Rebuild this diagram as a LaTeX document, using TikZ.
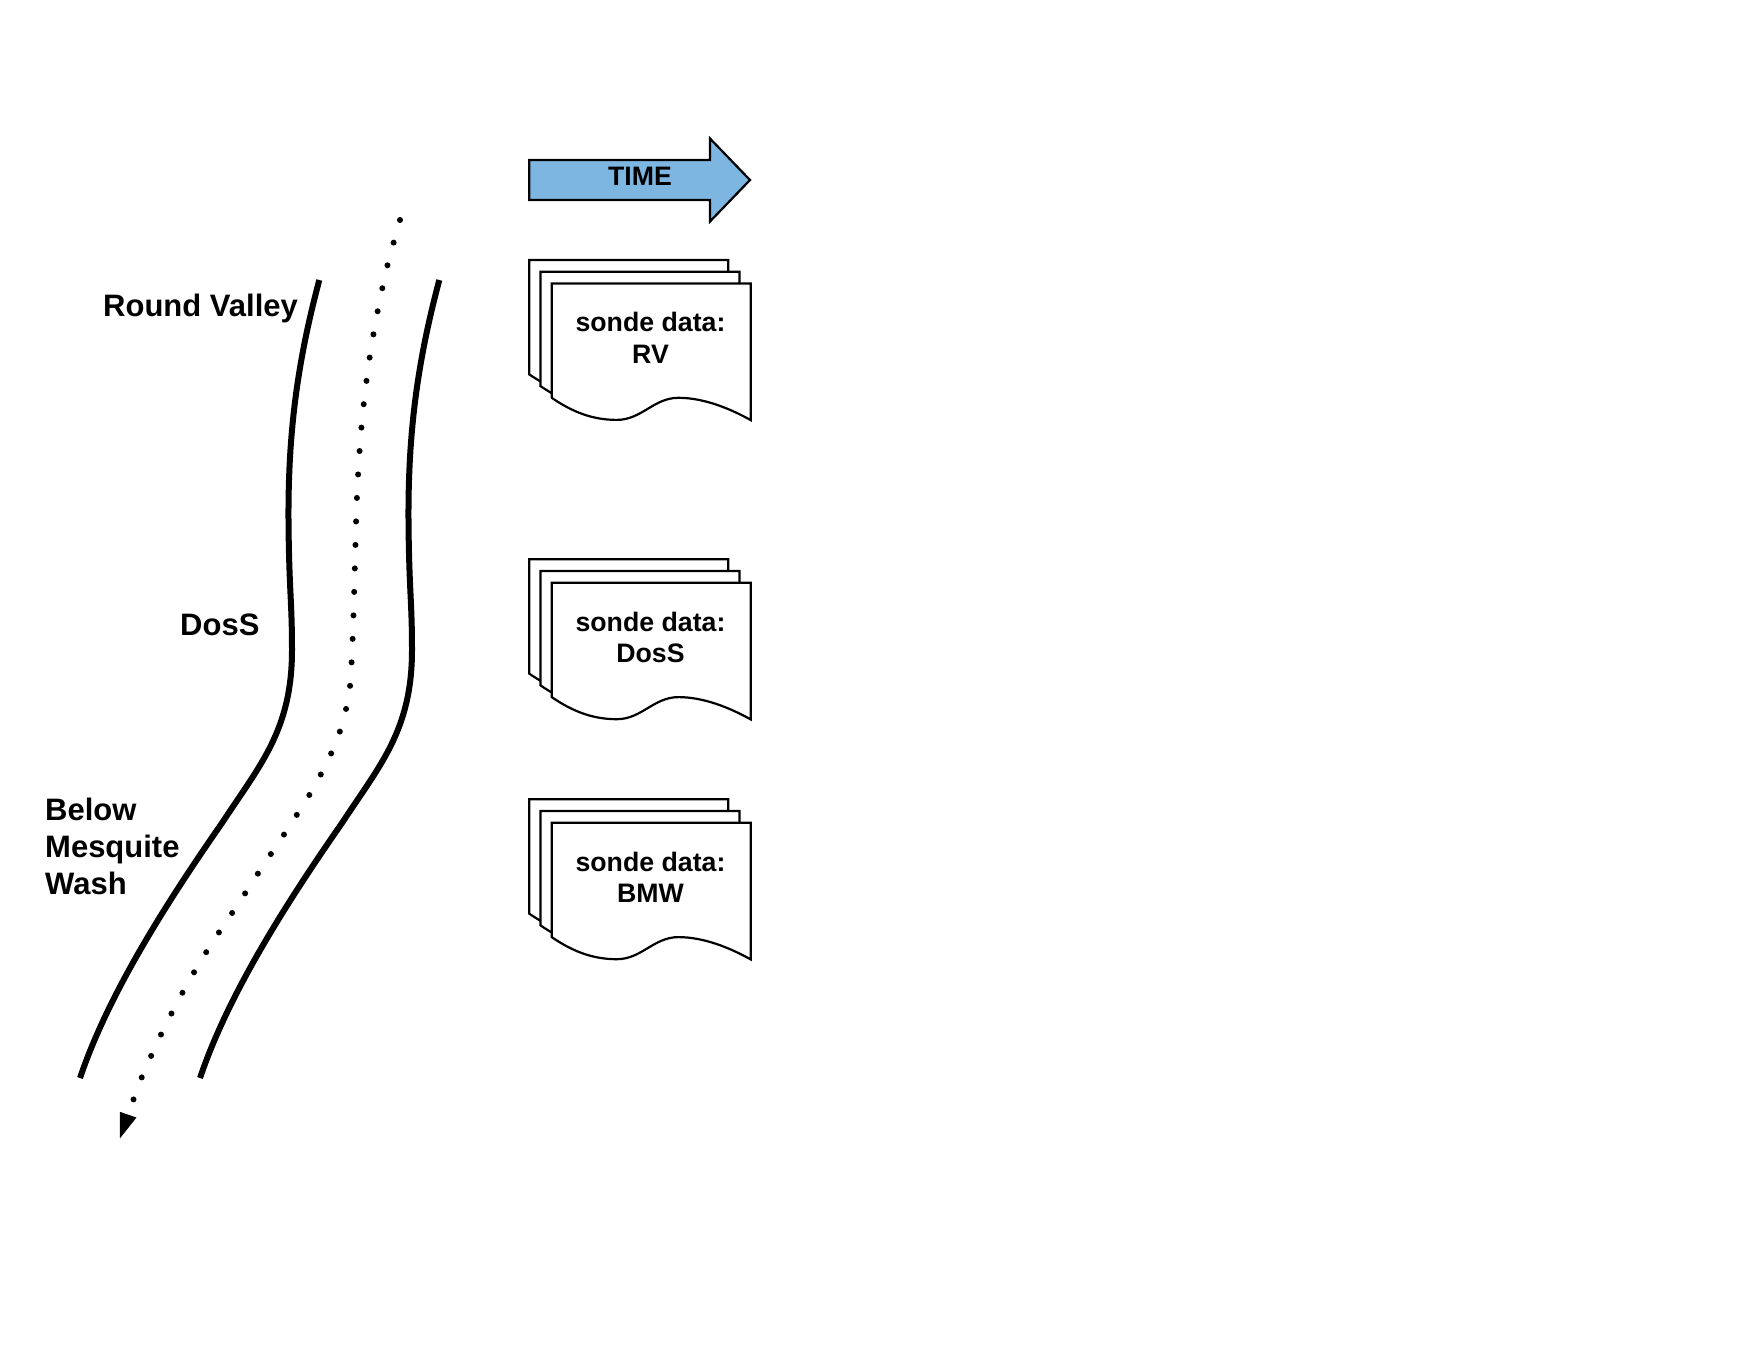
\documentclass[tikz,border=0pt]{standalone}
\usepackage{fontspec}
\setmainfont{Liberation Sans}
\usetikzlibrary{arrows.meta}
\definecolor{timeblue}{RGB}{126,182,226}
\begin{document}
\begin{tikzpicture}[x=1pt,y=-1pt,
  bank/.style={line width=6pt,line cap=butt},
  flow/.style={line width=6pt,line cap=round,dash pattern=on 0pt off 23.5pt,
    -{Triangle[length=25pt,width=17.5pt,line width=0pt]}},
  sheet/.style={draw=black,fill=white,line width=2.2pt,line join=miter},
  lbl/.style={font=\fontsize{31}{37}\selectfont\bfseries,inner sep=0pt,align=left},
  doctext/.style={font=\fontsize{26.7}{31.7}\selectfont\bfseries,inner sep=0pt,align=center},
  timearrow/.style={draw=black,fill=timeblue,line width=2.2pt,line join=miter},
  pics/docstack/.style={code={
    \foreach \d in {0,1,2}{
      \path[sheet,shift={(11.2*\d,11.7*\d)}] (0,0) -- (199,0) -- (199,136.7)
        .. controls (178,125) and (152,114.4) .. (126.7,114.4)
        .. controls (102,114.4) and (90,136.5) .. (65,136.5)
        .. controls (40,136.5) and (20,128) .. (0,114.4) -- cycle;
    }}},
  pics/riverbank/.style={code={
    \draw[bank] (319.3,280) .. controls (298,360) and (288,430) .. (288.5,520)
      .. controls (289,590) and (292,600) .. (292,650)
      .. controls (292,730) and (260,765) .. (222,823)
      .. controls (165,905) and (108,995) .. (80,1078);
  }}
]
\useasboundingbox (0,0) rectangle (1760,1360);
\fill[white] (0,0) rectangle (1760,1360);

% time arrow
\path[timearrow] (529.3,160) -- (710,160) -- (710,138.5) -- (750,180) -- (710,221.5) -- (710,200) -- (529.3,200) -- cycle;
\node[font=\fontsize{26.7}{31}\selectfont\bfseries,inner sep=0pt,anchor=base] (time) at (640,185) {TIME};

% river banks
\pic at (0,0) {riverbank};
\pic at (120,0) {riverbank};

% flow
\draw[flow] plot[smooth,tension=0.5] coordinates {(400,220) (387.3,266) (377.3,313) (369.3,360) (363.3,408) (359.3,455) (356.7,503) (355.3,551) (354,598) (352.3,646) (349,694.3) (337.3,739) (315.7,784) (290.7,824.3) (264,864.3) (237.7,904.7) (211.3,944) (186.7,985) (164,1028.3) (144.3,1071.3) (135.7,1093.3) (120,1138.3)};

% labels
\node[lbl,anchor=base west] (rvlbl) at (103,316) {Round Valley};
\node[lbl,anchor=base west] (dosslbl) at (180,635.7) {DosS};
\node[lbl,anchor=west] (bmwlbl) at (45,846) {Below\\Mesquite\\Wash};

% documents
\pic at (529.3,260) {docstack};
\node[doctext] (rvdoc) at (650.5,338) {sonde data:\\RV};
\pic at (529.3,559.3) {docstack};
\node[doctext] (dossdoc) at (650.5,637.3) {sonde data:\\DosS};
\pic at (529.3,799.3) {docstack};
\node[doctext] (bmwdoc) at (650.5,877.3) {sonde data:\\BMW};
\end{tikzpicture}
\end{document}
